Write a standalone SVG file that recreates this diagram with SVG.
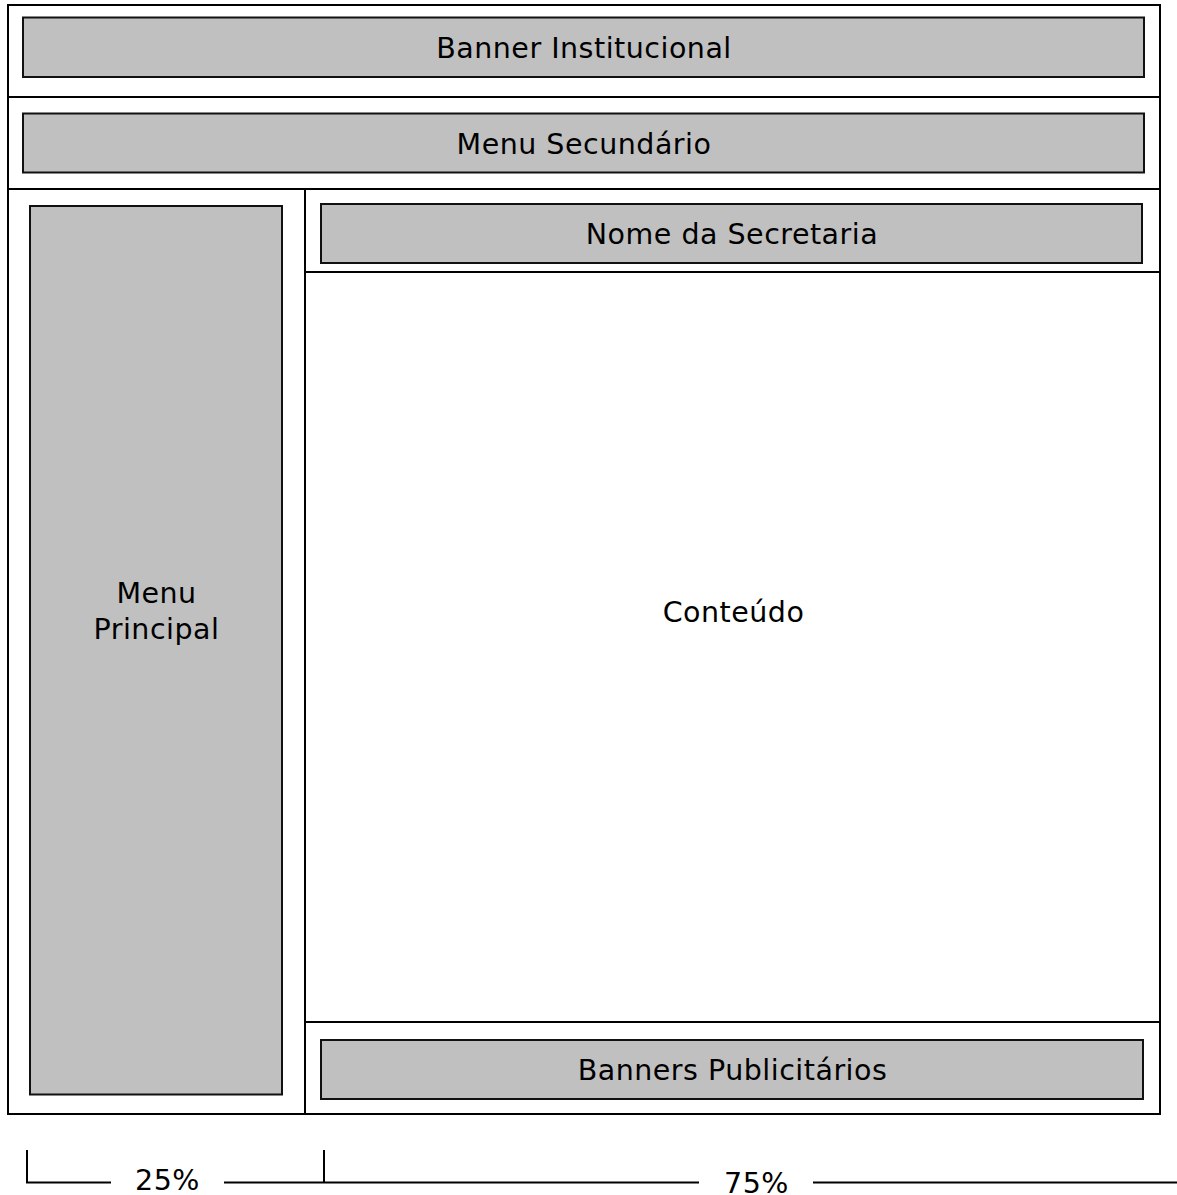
<svg xmlns="http://www.w3.org/2000/svg" width="1177" height="1195" viewBox="0 0 1177 1195">
<style>
.frame{fill:none;stroke:#000;stroke-width:2}
.box{fill:#c0c0c0;stroke:#111;stroke-width:2}
.lbl{font-family:"DejaVu Sans",Verdana,sans-serif;font-size:28.5px;letter-spacing:0.5px;fill:#000;text-anchor:middle}
.dim{fill:none;stroke:#000;stroke-width:2}
</style>
<rect width="1177" height="1195" fill="#fff"/>
<g id="layout">
<rect class="frame" x="8" y="5" width="1152" height="1109"/>
<line class="frame" x1="8" y1="97" x2="1160" y2="97"/>
<line class="frame" x1="8" y1="189" x2="1160" y2="189"/>
<line class="frame" x1="305" y1="189" x2="305" y2="1114"/>
<line class="frame" x1="305" y1="272" x2="1160" y2="272"/>
<line class="frame" x1="305" y1="1022" x2="1160" y2="1022"/>
</g>
<g id="banner-institucional">
<rect class="box" x="23" y="17.5" width="1121" height="59.5"/>
<text class="lbl" x="584" y="57.5">Banner Institucional</text>
</g>
<g id="menu-secundario">
<rect class="box" x="23" y="113.5" width="1121" height="59"/>
<text class="lbl" x="584" y="153.5">Menu Secundário</text>
</g>
<g id="menu-principal">
<rect class="box" x="30" y="206" width="252" height="888.5"/>
<text class="lbl" x="156.5" y="603">Menu</text>
<text class="lbl" x="156.5" y="639">Principal</text>
</g>
<g id="conteudo">
<text class="lbl" x="733.5" y="622">Conteúdo</text>
</g>
<g id="nome-secretaria">
<rect class="box" x="321" y="204" width="821" height="59"/>
<text class="lbl" x="732" y="244">Nome da Secretaria</text>
</g>
<g id="banners-publicitarios">
<rect class="box" x="321" y="1040" width="822" height="59"/>
<text class="lbl" x="732.5" y="1080">Banners Publicitários</text>
</g>
<g id="dimensions">
<polyline class="dim" points="27,1150 27,1182.5 111,1182.5"/>
<line class="dim" x1="224" y1="1182.5" x2="699" y2="1182.5"/>
<line class="dim" x1="324" y1="1150" x2="324" y2="1182.5"/>
<line class="dim" x1="813" y1="1182.5" x2="1177" y2="1182.5"/>
<text class="lbl" x="167.5" y="1190">25%</text>
<text class="lbl" x="756.5" y="1193">75%</text>
</g>
</svg>
